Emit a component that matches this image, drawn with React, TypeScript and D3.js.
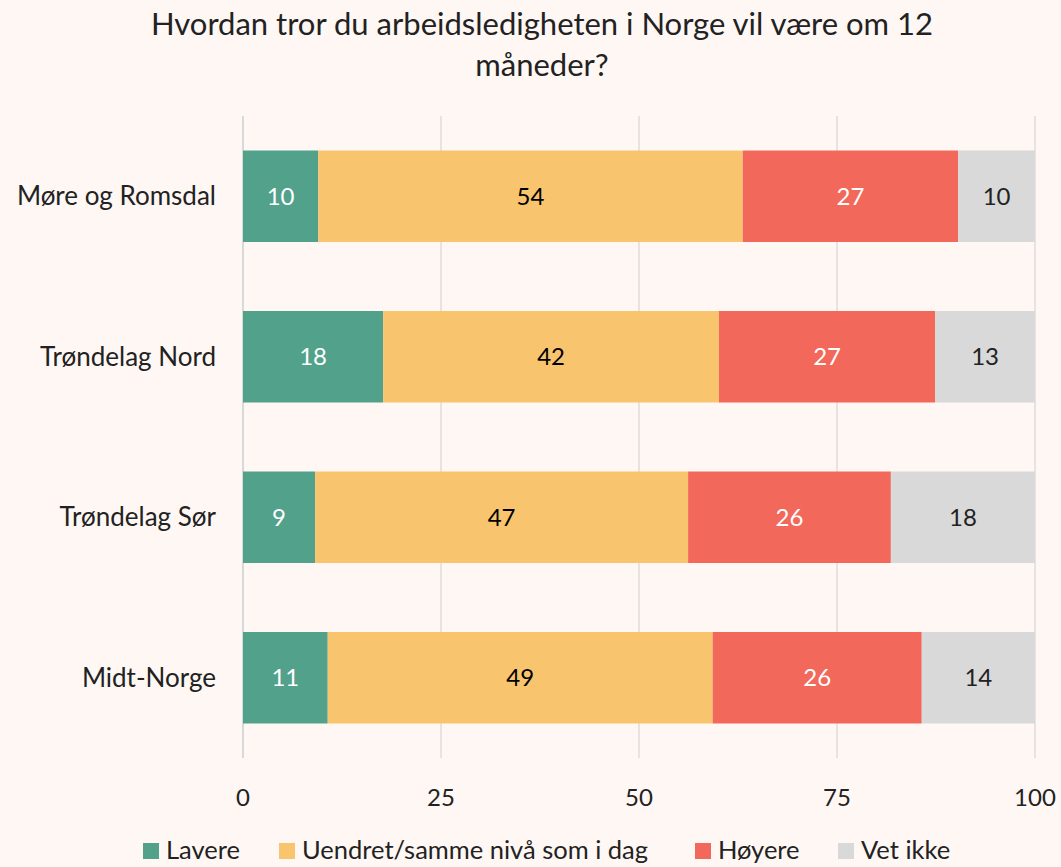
import React, { useEffect, useRef } from "react";
import * as d3 from "d3";

const regions = ["Møre og Romsdal", "Trøndelag Nord", "Trøndelag Sør", "Midt-Norge"];
const seriesNames = ["Lavere", "Uendret/samme nivå som i dag", "Høyere", "Vet ikke"];
const lavere = [9.5, 17.7, 9.1, 10.7];
const uendret = [53.6, 42.4, 47.1, 48.6];
const hoyere = [27.2, 27.3, 25.6, 26.4];
const vetIkke = [9.7, 12.6, 18.2, 14.3];
const ticks = [0, 25, 50, 75, 100];

const colors = ["#52a18b", "#f9c46e", "#f2685a", "#d9d9d9"];
const labelColors = ["#ffffff", "#000000", "#ffffff", "#222222"];

const App = () => {
  const ref = useRef<SVGSVGElement>(null);

  useEffect(() => {
    const width = 1061;
    const height = 867;
    const font = "Lato, 'Open Sans', sans-serif";

    const svg = d3.select(ref.current);
    svg.selectAll("*").remove();
    svg.attr("width", width).attr("height", height);

    svg.append("rect").attr("width", width).attr("height", height).attr("fill", "#fff7f4");

    const x = d3.scaleLinear().domain([0, 100]).range([243, 1035]);
    const y = d3.scaleBand().domain(regions).range([116, 758]).paddingInner(0.43).paddingOuter(0.215);

    // title
    const title = svg.append("text")
      .attr("text-anchor", "middle")
      .style("font-family", font)
      .style("font-size", "31px")
      .attr("fill", "#222");
    title.append("tspan").attr("x", 542).attr("y", 35).text("Hvordan tror du arbeidsledigheten i Norge vil være om 12");
    title.append("tspan").attr("x", 542).attr("y", 76).text("måneder?");

    // grid
    svg.append("g").selectAll("line").data(ticks).join("line")
      .attr("x1", (d) => x(d)).attr("x2", (d) => x(d))
      .attr("y1", 116).attr("y2", 758)
      .attr("stroke", "#d9d9d9").attr("stroke-width", (d) => (d === 0 ? 2 : 1.3));

    svg.append("g").selectAll("text").data(ticks).join("text")
      .attr("x", (d) => x(d)).attr("y", 806)
      .attr("text-anchor", "middle")
      .style("font-family", font).style("font-size", "24px")
      .attr("fill", "#222")
      .text((d) => d);

    // category labels
    svg.append("g").selectAll("text").data(regions).join("text")
      .attr("x", 216).attr("y", (d) => (y(d) as number) + y.bandwidth() / 2)
      .attr("dy", "0.35em").attr("text-anchor", "end")
      .style("font-family", font).style("font-size", "26px")
      .attr("fill", "#222")
      .text((d) => d);

    const rows = regions.map((r, i) => ({ region: r, s0: lavere[i], s1: uendret[i], s2: hoyere[i], s3: vetIkke[i] }));
    const stack = d3.stack<any>().keys(["s0", "s1", "s2", "s3"]);
    const layers = stack(rows);

    layers.forEach((layer, li) => {
      const g = svg.append("g");
      g.selectAll("rect").data(layer).join("rect")
        .attr("x", (d) => x(d[0]))
        .attr("width", (d) => x(d[1]) - x(d[0]))
        .attr("y", (d) => y(d.data.region) as number)
        .attr("height", y.bandwidth())
        .attr("fill", colors[li]);
      g.selectAll("text").data(layer).join("text")
        .attr("x", (d) => (x(d[0]) + x(d[1])) / 2)
        .attr("y", (d) => (y(d.data.region) as number) + y.bandwidth() / 2)
        .attr("dy", "0.35em").attr("text-anchor", "middle")
        .style("font-family", font).style("font-size", "24px")
        .attr("fill", labelColors[li])
        .text((d) => Math.round(d[1] - d[0]));
    });

    // legend
    const legendX = [143, 279, 695, 838];
    const lg = svg.append("g");
    seriesNames.forEach((name, i) => {
      lg.append("rect").attr("x", legendX[i]).attr("y", 843).attr("width", 16).attr("height", 16).attr("fill", colors[i]);
      lg.append("text").attr("x", legendX[i] + 23).attr("y", 851).attr("dy", "0.33em")
        .style("font-family", font).style("font-size", "25.5px").attr("fill", "#222")
        .text(name);
    });
  }, []);

  return <svg ref={ref} style={{ display: "block", position: "absolute", left: 0, top: 0 }}></svg>;
};

export default App;
